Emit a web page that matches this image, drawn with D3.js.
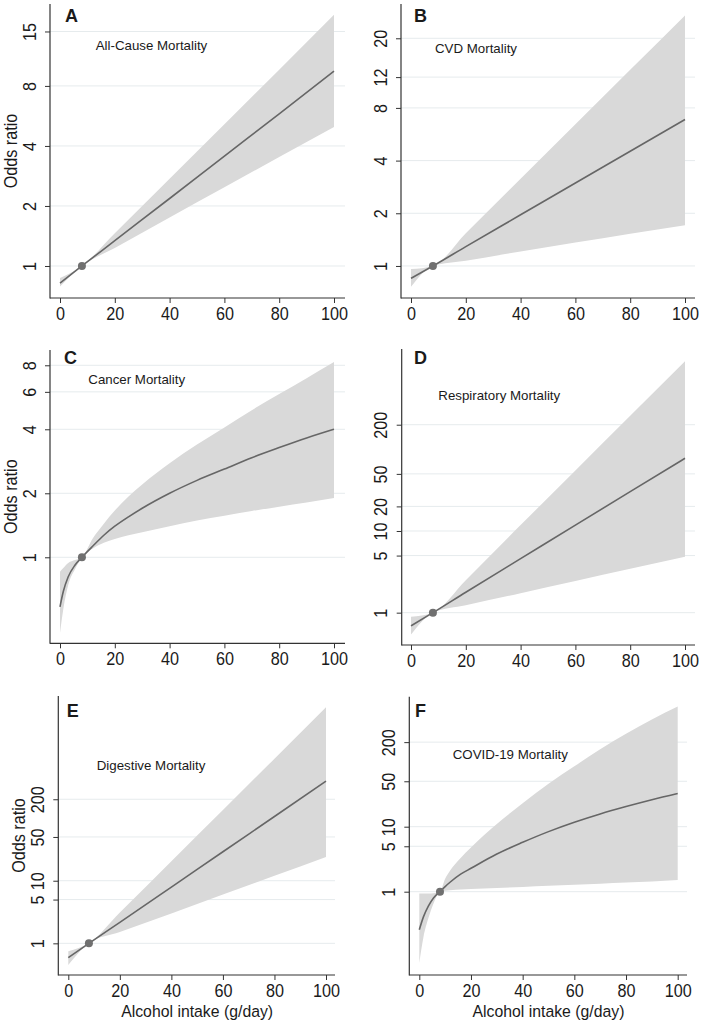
<!DOCTYPE html>
<html><head><meta charset="utf-8">
<script src="https://cdn.jsdelivr.net/npm/d3@7"></script>
<style>
body{margin:0;background:#fff}
svg{display:block}
text{font-family:"Liberation Sans",Arial,Helvetica,sans-serif;fill:#1a1a1a}
</style>
</head><body>
<svg id="chart" width="705" height="1023"></svg>
<script>
// ---------------- data ----------------
const xTicks = [0, 20, 40, 60, 80, 100];
const refX = 8, refOR = 1;

const allCauseX  = [0, 8, 20, 40, 60, 80, 100];
const allCauseOR = [0.82, 1.0, 1.34, 2.18, 3.56, 5.8, 9.5];
const allCauseLo = [0.79, 1.0, 1.23, 1.75, 2.48, 3.52, 4.98];
const allCauseHi = [0.87, 1.0, 1.46, 2.74, 5.14, 9.65, 18.2];

const cvdX  = [0, 8, 20, 40, 60, 80, 100];
const cvdOR = [0.85, 1.0, 1.29, 1.96, 2.98, 4.52, 6.87];
const cvdLo = [0.76, 1.0, 1.07, 1.21, 1.36, 1.53, 1.71];
const cvdHi = [0.96, 1.0, 1.54, 3.15, 6.45, 13.2, 27];

const cancerX  = [0, 1.2, 3, 5.5, 8, 12, 16, 20, 25, 30, 40, 50, 60, 70, 80, 90, 100];
const cancerOR = [0.585, 0.69, 0.81, 0.92, 1.0, 1.13, 1.27, 1.4, 1.55, 1.7, 2.0, 2.3, 2.6, 2.94, 3.28, 3.64, 4.0];
const cancerLo = [0.44, 0.57, 0.74, 0.88, 1.0, 1.1, 1.17, 1.22, 1.27, 1.31, 1.4, 1.49, 1.57, 1.65, 1.73, 1.81, 1.9];
const cancerHi = [0.855, 0.89, 0.94, 0.97, 1.0, 1.23, 1.44, 1.66, 1.93, 2.2, 2.77, 3.39, 4.08, 4.92, 5.86, 6.96, 8.28];

const respX  = [0, 8, 20, 40, 60, 80, 100];
const respOR = [0.69, 1.0, 1.78, 4.58, 11.8, 30.3, 77.6];
const respLo = [0.54, 1.0, 1.23, 1.73, 2.44, 3.44, 4.85];
const respHi = [0.89, 1.0, 2.5, 11.8, 55, 257, 1200];

const digX  = [0, 8, 20, 40, 60, 80, 100];
const digOR = [0.59, 1.0, 2.16, 7.9, 29, 106, 389];
const digLo = [0.45, 1.0, 1.51, 3.0, 6.0, 12, 24];
const digHi = [0.75, 1.0, 3.1, 20.5, 135, 890, 5900];

const covidX  = [0, 1.6, 3.5, 5.5, 8, 10, 12, 16, 20, 30, 40, 50, 60, 70, 80, 90, 100];
const covidOR = [0.26, 0.41, 0.6, 0.8, 1.0, 1.2, 1.41, 1.86, 2.29, 3.8, 5.75, 8.4, 11.7, 15.7, 20.4, 26, 32.4];
const covidLo = [0.08, 0.2, 0.39, 0.66, 1.0, 1.03, 1.05, 1.08, 1.1, 1.14, 1.18, 1.23, 1.28, 1.33, 1.38, 1.44, 1.51];
const covidHi = [0.94, 0.94, 0.94, 0.95, 1.0, 1.58, 2.14, 3.31, 4.79, 11, 22.9, 45.7, 85, 155, 269, 447, 708];

const yTicksA = [1, 2, 4, 8, 15];
const yTicksB = [1, 2, 4, 8, 12, 20];
const yTicksC = [1, 2, 4, 6, 8];
const yTicksD = [1, 5, 10, 20, 50, 200];
const yTicksE = [1, 5, 10, 50, 200];
const yTicksF = [1, 5, 10, 50, 200];

const letters = ["A", "B", "C", "D", "E", "F"];
const titles = ["All-Cause Mortality", "CVD Mortality", "Cancer Mortality",
                "Respiratory Mortality", "Digestive Mortality", "COVID-19 Mortality"];
const yTitle = "Odds ratio";
const xTitle = "Alcohol intake (g/day)";

// ---------------- layout ----------------
const series = [
  [allCauseX, allCauseOR, allCauseLo, allCauseHi, yTicksA],
  [cvdX, cvdOR, cvdLo, cvdHi, yTicksB],
  [cancerX, cancerOR, cancerLo, cancerHi, yTicksC],
  [respX, respOR, respLo, respHi, yTicksD],
  [digX, digOR, digLo, digHi, yTicksE],
  [covidX, covidOR, covidLo, covidHi, yTicksF]
];
const layouts = [
  {ax:50,   bot:298, top:4,   x0:60,   x1:334,   xe:345, lo:0.691, hi:20.6, lx:65,  ly:22,  tx:95.7, ty:49.5, yl:true,  xl:false},
  {ax:401,  bot:298, top:4,   x0:411,  x1:685,   xe:695, lo:0.656, hi:31.4, lx:414, ly:22,  tx:435,  ty:52.5, yl:false, xl:false},
  {ax:50,   bot:643.3, top:350, x0:60, x1:334,   xe:345, lo:0.394, hi:9.44, lx:64,  ly:363.5, tx:88.3, ty:383.5, yl:true, xl:false},
  {ax:401.7,bot:645, top:349, x0:411,  x1:685,   xe:695, lo:0.402, hi:1690, lx:414, ly:363.5, tx:438.3, ty:399.5, yl:false, xl:false},
  {ax:58.3, bot:975, top:696, x0:68.3, x1:326,   xe:335, lo:0.312, hi:8920, lx:66.7, ly:716.7, tx:96.7, ty:769.5, yl:true, xl:true},
  {ax:409.3,bot:975, top:696.7, x0:419.3, x1:677.7, xe:687, lo:0.0523, hi:1000, lx:415, ly:716.7, tx:452.7, ty:758.5, yl:false, xl:true}
];

const svg = d3.select("#chart");
const SX = 0.9;

series.forEach((s, i) => {
  const [xs, or, lo, hi, yt] = s;
  const L = layouts[i];
  const x = d3.scaleLinear().domain([0, 100]).range([L.x0, L.x1]);
  const y = d3.scaleLog().domain([L.lo, L.hi]).range([L.bot, L.top]);
  const g = svg.append("g");
  const data = xs.map((v, k) => ({x: v, or: or[k], lo: lo[k], hi: hi[k]}));

  // gridlines
  g.append("g").selectAll("line").data(yt).join("line")
    .attr("x1", L.ax).attr("x2", L.xe)
    .attr("y1", d => y(d)).attr("y2", d => y(d))
    .attr("stroke", "#e6ebed").attr("stroke-width", 1);

  // confidence band
  g.append("path").datum(data)
    .attr("d", d3.area().x(d => x(d.x)).y0(d => y(d.lo)).y1(d => y(d.hi)).curve(d3.curveMonotoneX))
    .attr("fill", "#d9d9d9");

  // estimate line
  g.append("path").datum(data)
    .attr("d", d3.line().x(d => x(d.x)).y(d => y(d.or)).curve(d3.curveMonotoneX))
    .attr("fill", "none").attr("stroke", "#666").attr("stroke-width", 1.6);

  // reference point
  g.append("circle").attr("cx", x(refX)).attr("cy", y(refOR)).attr("r", 4).attr("fill", "#707070");

  // axes
  const xa = g.append("g").attr("transform", `translate(0,${L.bot})`)
    .call(d3.axisBottom(x).tickValues(xTicks).tickSize(5).tickFormat(d3.format("d")));
  xa.select(".domain").remove();
  xa.selectAll(".tick line").attr("stroke", "#333");
  xa.selectAll(".tick text").attr("x", null).attr("y", null).attr("dy", null)
    .attr("transform", `translate(0,22) scale(${SX},1)`)
    .attr("text-anchor", "middle").attr("font-size", 18).attr("fill", "#1a1a1a")
    .style("font-family", '"Liberation Sans",Arial,sans-serif');

  const ya = g.append("g").attr("transform", `translate(${L.ax},0)`)
    .call(d3.axisLeft(y).tickValues(yt).tickSize(5).tickFormat(d3.format("d")));
  ya.select(".domain").remove();
  ya.selectAll(".tick line").attr("stroke", "#333");
  ya.selectAll(".tick text").attr("x", null).attr("y", null).attr("dy", null)
    .attr("transform", `translate(-14.5,0) rotate(-90) scale(${SX},1)`)
    .attr("text-anchor", "middle").attr("font-size", 18).attr("fill", "#1a1a1a")
    .style("font-family", '"Liberation Sans",Arial,sans-serif');

  g.append("line").attr("x1", L.ax).attr("x2", L.ax).attr("y1", L.top).attr("y2", L.bot + 0.5)
    .attr("stroke", "#333").attr("stroke-width", 1.2);
  g.append("line").attr("x1", L.ax).attr("x2", L.xe).attr("y1", L.bot).attr("y2", L.bot)
    .attr("stroke", "#333").attr("stroke-width", 1.2);

  // labels
  g.append("text").attr("x", L.lx).attr("y", L.ly).text(letters[i])
    .attr("font-size", 18).attr("font-weight", "bold").attr("fill", "#111");
  g.append("text").attr("x", L.tx).attr("y", L.ty).text(titles[i])
    .attr("font-size", 13.3).attr("fill", "#222");
  if (L.yl) {
    g.append("text").attr("transform", `translate(${L.ax - 33},${(L.top + L.bot) / 2}) rotate(-90) scale(${SX},1)`)
      .attr("text-anchor", "middle").attr("font-size", 18).text(yTitle);
  }
  if (L.xl) {
    g.append("text").attr("transform", `translate(${(L.x0 + L.x1) / 2},${L.bot + 41.5}) scale(0.93,1)`)
      .attr("text-anchor", "middle").attr("font-size", 17).text(xTitle);
  }
});
</script>
</body></html>
